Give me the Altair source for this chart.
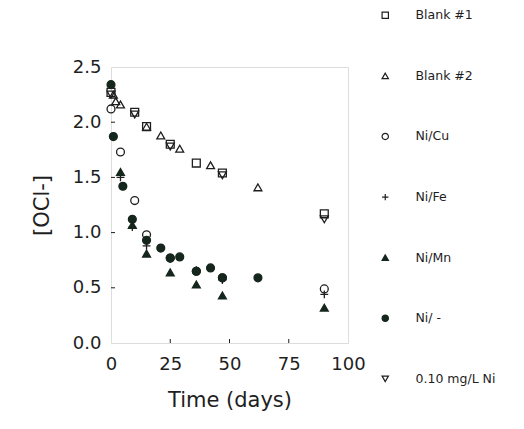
import altair as alt
import pandas as pd

series_names = ["Blank #1", "Blank #2", "Ni/Cu", "Ni/Fe", "Ni/Mn", "Ni/ -", "0.10 mg/L Ni"]

blank1_days = [0, 10, 15, 25, 36, 47, 90]
blank1_vals = [2.27, 2.09, 1.96, 1.80, 1.63, 1.54, 1.17]

blank2_days = [1, 2, 4, 15, 21, 29, 42, 62]
blank2_vals = [2.25, 2.19, 2.16, 1.96, 1.88, 1.76, 1.61, 1.41]

nicu_days = [0, 4, 10, 15, 25, 36, 47, 90]
nicu_vals = [2.12, 1.73, 1.29, 0.98, 0.77, 0.65, 0.59, 0.49]

nife_days = [4, 9, 15, 25, 36, 47, 90]
nife_vals = [1.50, 1.05, 0.88, 0.76, 0.66, 0.57, 0.44]

nimn_days = [4, 9, 15, 25, 36, 47, 90]
nimn_vals = [1.55, 1.07, 0.81, 0.64, 0.53, 0.43, 0.32]

nionly_days = [0, 1, 5, 9, 15, 21, 25, 29, 36, 42, 47, 62]
nionly_vals = [2.34, 1.87, 1.42, 1.12, 0.93, 0.86, 0.77, 0.78, 0.65, 0.68, 0.59, 0.59]

ni010_days = [0, 10, 25, 47, 90]
ni010_vals = [2.25, 2.07, 1.78, 1.52, 1.12]

x_ticks = [25, 50, 75]
y_ticks = [0.5, 1.0, 1.5, 2.0]

all_days = [blank1_days, blank2_days, nicu_days, nife_days, nimn_days, nionly_days, ni010_days]
all_vals = [blank1_vals, blank2_vals, nicu_vals, nife_vals, nimn_vals, nionly_vals, ni010_vals]

rows = []
for name, ds, vs in zip(series_names, all_days, all_vals):
    for d, v in zip(ds, vs):
        rows.append({"series": name, "day": d, "ocl": v})
df = pd.DataFrame(rows)

W, H = 237, 276
INK = "#1e1e1e"
DARK = "#15261d"
FONT = "DejaVu Sans"

shapes = ["square", "triangle-up", "circle", "M-1,0H1M0,-1V1", "triangle-up", "circle", "triangle-down"]
fills = ["transparent", "transparent", "transparent", "transparent", DARK, DARK, "transparent"]
strokes = [INK, INK, INK, INK, DARK, DARK, INK]

legend = alt.Legend(
    title=None, orient="none", legendX=268, legendY=-58,
    symbolSize=40, symbolStrokeWidth=1.2, labelFont=FONT, labelFontSize=12.5,
    labelColor=INK, labelOffset=24, rowPadding=47.6, padding=0,
)

points = alt.Chart(df).mark_point(size=62, strokeWidth=1.3, opacity=1).encode(
    x=alt.X("day:Q", scale=alt.Scale(domain=[0, 100], nice=False),
            axis=alt.Axis(values=[0, 25, 50, 75, 100], title="Time (days)", grid=False,
                          ticks=False, tickSize=0, domain=False, labelFontSize=18,
                          labelFlush=False, labelPadding=12, labelFont=FONT, labelColor=INK,
                          titleFont=FONT, titleFontSize=21, titleFontWeight="normal",
                          titleColor=INK, titlePadding=16)),
    y=alt.Y("ocl:Q", scale=alt.Scale(domain=[0, 2.5], nice=False),
            axis=alt.Axis(values=[0, 0.5, 1.0, 1.5, 2.0, 2.5], format=".1f", title="[OCl-]",
                          grid=False, ticks=False, tickSize=0, domain=False,
                          labelFlush=False, labelFontSize=18, labelPadding=10, labelFont=FONT,
                          labelColor=INK, titleFont=FONT, titleFontSize=21,
                          titleFontWeight="normal", titleColor=INK, titlePadding=20)),
    shape=alt.Shape("series:N", scale=alt.Scale(domain=series_names, range=shapes), legend=legend),
    fill=alt.Fill("series:N", scale=alt.Scale(domain=series_names, range=fills), legend=legend),
    stroke=alt.Stroke("series:N", scale=alt.Scale(domain=series_names, range=strokes), legend=legend),
)

xt = alt.Chart(pd.DataFrame({"t": x_ticks})).mark_rule(color=INK, strokeWidth=1).encode(
    x="t:Q", y=alt.value(H), y2=alt.value(H - 4))
yt = alt.Chart(pd.DataFrame({"t": y_ticks})).mark_rule(color=INK, strokeWidth=1).encode(
    y="t:Q", x=alt.value(0), x2=alt.value(4))

chart = alt.layer(points, xt, yt).properties(
    width=W, height=H,
    autosize=alt.AutoSizeParams(type="none"),
    padding={"left": 103, "top": 59, "right": 168, "bottom": 70},
).configure_view(stroke=INK, strokeWidth=1.2).configure(background="white")

chart.save("out.html", embed_options={"renderer": "svg", "actions": False})
